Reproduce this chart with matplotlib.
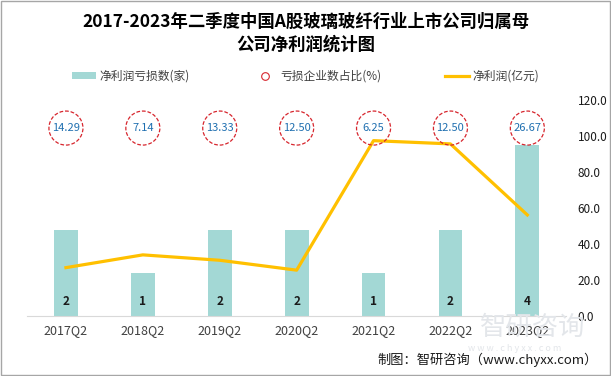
import matplotlib.pyplot as plt
from matplotlib.lines import Line2D
from matplotlib.patches import Patch

plt.rcParams['font.family'] = ['Noto Sans CJK SC', 'DejaVu Sans']

# ---------------------------------------------------------------------
# DATA
# ---------------------------------------------------------------------
quarters = ["2017Q2", "2018Q2", "2019Q2", "2020Q2", "2021Q2", "2022Q2", "2023Q2"]
loss_count = [2, 1, 2, 2, 1, 2, 4]                       # 净利润亏损数(家)
loss_ratio = ["14.29", "7.14", "13.33", "12.50", "6.25", "12.50", "26.67"]  # %
net_profit = [26.8, 33.9, 30.9, 25.4, 97.4, 95.6, 56.1]  # 亿元

right_ticks = [0, 20, 40, 60, 80, 100, 120]

BAR_COLOR = "#a3d8d5"
LINE_COLOR = "#ffc000"
CIRCLE_COLOR = "#d7262e"
TEXT_BLUE = "#1f6fb0"

# ---------------------------------------------------------------------
# PLOT
# ---------------------------------------------------------------------
fig = plt.figure(figsize=(6.11, 3.76), dpi=100)
ax = fig.add_axes([0.045, 0.16, 0.881, 0.574])
ax2 = ax.twinx()

x = list(range(len(quarters)))

# bars (left, hidden axis)
ax.bar(x, loss_count, width=0.31, color=BAR_COLOR, zorder=1)
for xi, v in zip(x, loss_count):
    ax.text(xi, 0.18, str(v), ha="center", va="bottom", fontsize=8.5,
            fontweight="bold", color="#1a1a1a")
ax.set_ylim(0, 5.05)
ax.set_xlim(-0.5, len(quarters) - 0.5)
ax.set_yticks([])
ax.set_xticks(x)
ax.set_xticklabels(quarters, fontsize=9, color="#404040")
ax.tick_params(axis="x", length=0, pad=6)
for s in ["top", "left", "right"]:
    ax.spines[s].set_visible(False)
ax.spines["bottom"].set_color("#d9d9d9")

# line + circles (right axis)
ax2.plot(x, net_profit, color=LINE_COLOR, linewidth=2.3, zorder=3)
circle_level = 104.4
ax2.scatter(x, [circle_level] * len(x), s=600, facecolors="none",
            edgecolors=CIRCLE_COLOR, linewidths=0.9, linestyle=(0, (3, 1.5)),
            zorder=4)
for xi, r in zip(x, loss_ratio):
    ax2.text(xi, circle_level, r, ha="center", va="center", fontsize=8,
             color=TEXT_BLUE, zorder=5)
ax2.set_ylim(0, 120)
ax2.set_yticks(right_ticks)
ax2.set_yticklabels([f"{t:.1f}" for t in right_ticks], fontsize=8.5, color="#1a1a1a")
ax2.tick_params(axis="y", length=0, pad=8.5)
for s in ["top", "left", "right", "bottom"]:
    ax2.spines[s].set_visible(False)

# title
fig.text(0.5, 0.942, "2017-2023年二季度中国A股玻璃玻纤行业上市公司归属母",
         ha="center", va="center", fontsize=12.5, fontweight="bold")
fig.text(0.5, 0.881, "公司净利润统计图",
         ha="center", va="center", fontsize=12.5, fontweight="bold")

# legend
handles = [
    Patch(facecolor=BAR_COLOR, edgecolor="none"),
    Line2D([], [], linestyle="none", marker="o", markersize=5.5,
           markerfacecolor="none", markeredgecolor=CIRCLE_COLOR, markeredgewidth=0.8),
    Line2D([], [], color=LINE_COLOR, linewidth=2.3),
]
labels = ["净利润亏损数(家)", "亏损企业数占比(%)", "净利润(亿元)"]
fig.legend(handles, labels, loc="center", bbox_to_anchor=(0.5, 0.797), ncol=3,
           frameon=False, fontsize=8.5, handlelength=2.0, handleheight=0.6,
           handletextpad=0.3, columnspacing=5.4, labelcolor="#404040")

# watermark and source
fig.text(0.872, 0.13, "智研咨询", ha="center", va="center", fontsize=19,
         color="#e3e6ea", zorder=0)
fig.text(0.842, 0.074, "w w w . c h y x x . c o m", ha="center", va="center",
         fontsize=6.5, color="#e3e6ea", zorder=0)
fig.text(0.979, 0.043, "制图：智研咨询（www.chyxx.com）", ha="right", va="center",
         fontsize=9.5, color="#1a1a1a")

# outer border
fig.patches.append(plt.Rectangle((0.001, 0.002), 0.997, 0.996, transform=fig.transFigure,
                                 fill=False, edgecolor="#a6a6a6", linewidth=1))

fig.savefig("out.png", dpi=100)
